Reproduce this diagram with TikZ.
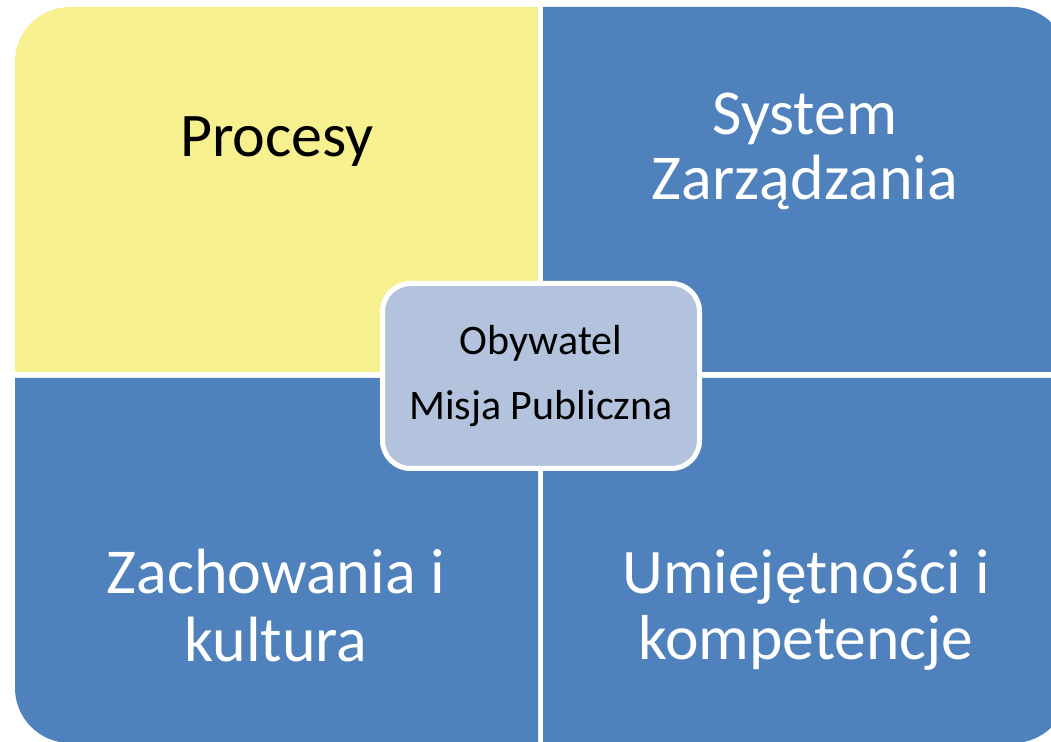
\documentclass[tikz,border=0pt]{standalone}
\usepackage{fontspec}
\setmainfont{Carlito}
\usetikzlibrary{positioning}
\definecolor{quadyellow}{RGB}{247,240,143}
\definecolor{quadblue}{RGB}{79,129,189}
\definecolor{hubfill}{RGB}{179,194,221}

\begin{document}
\begin{tikzpicture}[x=1pt, y=1pt,
	lbl/.style={align=center, inner sep=0pt, text=white},
	hub/.style={draw=white, line width=5pt, fill=hubfill, rounded corners=28pt,
		minimum width=317pt, minimum height=185pt, align=center,
		font=\fontsize{42}{65}\selectfont}]

		\useasboundingbox (0,0) rectangle (1051,741);
		\clip (0,0) rectangle (1051,741);

		% quadrants - one rounded outer corner each %
		\fill[quadyellow] (538,369) -- (15,369) -- (15,679) arc[start angle=180, end angle=90, radius=55] -- (538,734) -- cycle;
		\fill[quadblue] (543,369) -- (543,734) -- (1013,734) arc[start angle=90, end angle=0, radius=55] -- (1068,369) -- cycle;
		\fill[quadblue] (538,363) -- (15,363) -- (15,53) arc[start angle=180, end angle=270, radius=55] -- (538,-2) -- cycle;
		\fill[quadblue] (543,363) -- (1068,363) -- (1068,53) arc[start angle=0, end angle=-90, radius=55] -- (543,-2) -- cycle;

		% nodes - labels %
		\node[lbl, text=black, anchor=base, font=\fontsize{62}{65}\selectfont] (proc) at (277,584) {Procesy};
		\node[lbl, font=\fontsize{64}{65}\selectfont] (sys) at (805,590) {System\\Zarządzania};
		\node[lbl, font=\fontsize{64}{68}\selectfont] (zach) at (276,135) {Zachowania i\\kultura};
		\node[lbl, font=\fontsize{63.5}{66}\selectfont] (umie) at (806,131) {Umiejętności i\\kompetencje};

		% centre box %
		\node[hub] (obyw) at (541,365) {Obywatel\\Misja Publiczna};

\end{tikzpicture}
\end{document}
